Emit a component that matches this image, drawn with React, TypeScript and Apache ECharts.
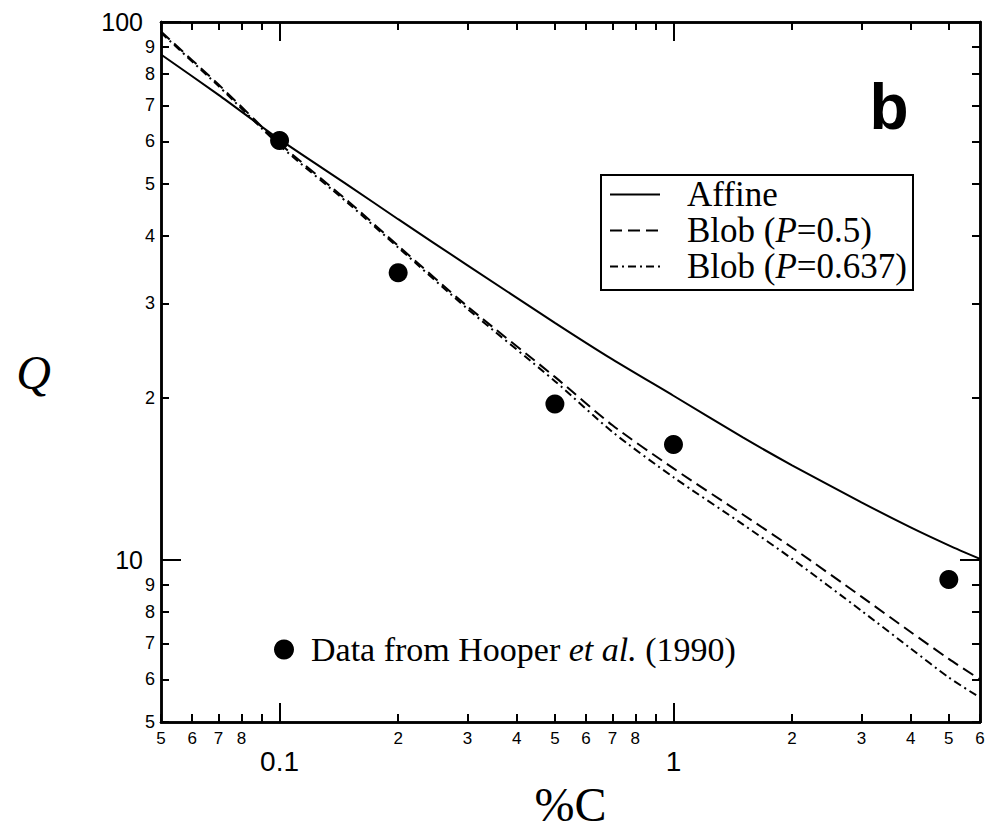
import React, { useEffect, useRef } from 'react';
import * as echarts from 'echarts';

// ---- data ----
const curveX = [0.05, 0.07, 0.1, 0.15, 0.2, 0.3, 0.5, 0.7, 1, 1.5, 2, 3, 4, 5, 6];
const affineQ = [87, 73.2, 60.5, 49.6, 43.0, 35.3, 27.6, 23.6, 20.2, 16.9, 15.0, 12.8, 11.5, 10.65, 10.05];
const blob05Q = [96, 76.5, 59.5, 46.3, 38.4, 29.6, 21.9, 17.8, 14.8, 12.15, 10.55, 8.55, 7.35, 6.55, 6.0];
const blob0637Q = [95.5, 76, 59, 45.9, 38.1, 29.3, 21.5, 17.3, 14.25, 11.65, 10.05, 8.05, 6.85, 6.05, 5.55];
const hooperX = [0.1, 0.2, 0.5, 1, 5];
const hooperQ = [60.2, 34.2, 19.5, 16.4, 9.2];

const seriesNames = ['Affine', 'Blob (P=0.5)', 'Blob (P=0.637)', 'Data from Hooper et al. (1990)'];
const seriesRich = ['Affine', 'Blob ({i|P}=0.5)', 'Blob ({i|P}=0.637)', 'Data from Hooper {i|et al.} (1990)'];

// tick labels
const xMin = 0.05;
const xMax = 6;
const yMin = 5;
const yMax = 100;
const xMajorTicks = [0.1, 1];
const xMajorLabels = ['0.1', '1'];
const xMinorTicks = [0.05, 0.06, 0.07, 0.08, 0.09, 0.2, 0.3, 0.4, 0.5, 0.6, 0.7, 0.8, 0.9, 2, 3, 4, 5, 6];
const xMinorLabelTicks = [0.05, 0.06, 0.07, 0.08, 0.2, 0.3, 0.4, 0.5, 0.6, 0.7, 0.8, 2, 3, 4, 5, 6];
const xMinorLabels = ['5', '6', '7', '8', '2', '3', '4', '5', '6', '7', '8', '2', '3', '4', '5', '6'];
const yMajorTicks = [10, 100];
const yMajorLabels = ['10', '100'];
const yMinorTicks = [5, 6, 7, 8, 9, 20, 30, 40, 50, 60, 70, 80, 90];
const yMinorLabels = ['5', '6', '7', '8', '9', '2', '3', '4', '5', '6', '7', '8', '9'];

const L = (v: number) => Math.log10(v);
const pair = (xs: number[], ys: number[]) => xs.map((x, i) => [L(x), L(ys[i])]);

const sans = "'Liberation Sans', Arial, Helvetica, sans-serif";
const serif = "'Liberation Serif', 'Times New Roman', Times, serif";

const fmt = (ticks: number[], labels: string[]) => (v: number) => {
  const i = ticks.findIndex((t) => Math.abs(L(t) - v) < 1e-6);
  return i >= 0 ? labels[i] : '';
};

function makeAxis(
  dim: 'x' | 'y',
  position: string,
  ticks: number[],
  tickLen: number,
  labelTicks: number[] | null,
  labels: string[] | null,
  fontSize: number,
  margin: number,
  extra: any = {}
) {
  const lo = dim === 'x' ? xMin : yMin;
  const hi = dim === 'x' ? xMax : yMax;
  return {
    type: 'value',
    position,
    min: L(lo),
    max: L(hi),
    splitLine: { show: false },
    axisLine: { show: true, onZero: false, lineStyle: { color: '#000', width: 2.5 } },
    axisTick: {
      show: true,
      inside: true,
      length: tickLen,
      lineStyle: { color: '#000', width: 2 },
      customValues: ticks.map(L),
    },
    axisLabel: labelTicks
      ? {
          show: true,
          customValues: labelTicks.map(L),
          formatter: fmt(labelTicks, labels as string[]),
          fontFamily: sans,
          fontSize,
          color: '#000',
          margin,
          showMinLabel: true,
          showMaxLabel: true,
          hideOverlap: false,
        }
      : { show: false },
    ...extra,
  };
}

export default function App() {
  const ref = useRef<HTMLDivElement>(null);
  useEffect(() => {
    document.body.style.margin = '0';
    if (!ref.current) return;
    const chart = echarts.init(ref.current, undefined, { renderer: 'svg' });
    const richMap: Record<string, string> = {};
    seriesNames.forEach((n, i) => (richMap[n] = seriesRich[i]));
    const legendText = (size: number) => ({
      fontFamily: serif,
      fontSize: size,
      color: '#000',
      lineHeight: 35,
      rich: { i: { fontFamily: serif, fontSize: size, fontStyle: 'italic', color: '#000', lineHeight: 35 } },
    });
    const hiddenSymbol = { color: 'rgba(0,0,0,0)', opacity: 0, borderWidth: 0 };
    chart.setOption({
      animation: false,
      backgroundColor: '#fff',
      grid: { left: 161, right: 6, top: 22, bottom: 107, containLabel: false, outerBoundsMode: 'none' },
      xAxis: [
        makeAxis('x', 'bottom', xMajorTicks, 19, xMajorTicks, xMajorLabels, 28, 25, {
          name: '%C',
          nameLocation: 'middle',
          nameGap: 58,
          nameTextStyle: { fontFamily: serif, fontSize: 48, color: '#000' },
        }),
        makeAxis('x', 'bottom', xMinorTicks, 8, xMinorLabelTicks, xMinorLabels, 17, 8),
        makeAxis('x', 'top', xMajorTicks, 19, null, null, 0, 0),
        makeAxis('x', 'top', xMinorTicks, 8, null, null, 0, 0),
      ],
      yAxis: [
        makeAxis('y', 'left', yMajorTicks, 20, yMajorTicks, yMajorLabels, 25, 18, {
          name: 'Q',
          nameLocation: 'middle',
          nameRotate: 0,
          nameGap: 110,
          nameTextStyle: { fontFamily: serif, fontSize: 48, fontStyle: 'italic', color: '#000' },
        }),
        makeAxis('y', 'left', yMinorTicks, 8, yMinorTicks, yMinorLabels, 18, 6),
        makeAxis('y', 'right', yMajorTicks, 20, null, null, 0, 0),
        makeAxis('y', 'right', yMinorTicks, 8, null, null, 0, 0),
      ],
      legend: [
        {
          data: seriesNames.slice(0, 3),
          orient: 'vertical',
          left: 601,
          top: 175,
          itemWidth: 50,
          itemHeight: 20,
          itemGap: 1,
          padding: [2, 6, 6, 8],
          borderColor: '#000',
          borderWidth: 2,
          borderRadius: 0,
          backgroundColor: '#fff',
          selectedMode: false,
          itemStyle: hiddenSymbol,
          formatter: (n: string) => richMap[n],
          textStyle: { ...legendText(35), padding: [0, 0, 0, 22] },
        },
        {
          data: [seriesNames[3]],
          orient: 'horizontal',
          left: 274,
          top: 632,
          itemWidth: 20,
          itemHeight: 20,
          padding: 0,
          selectedMode: false,
          formatter: (n: string) => richMap[n],
          textStyle: { ...legendText(34), padding: [0, 0, 0, 12] },
        },
      ],
      series: [
        {
          name: seriesNames[0],
          type: 'line',
          data: pair(curveX, affineQ),
          symbol: 'none',
          smooth: 0.25,
          lineStyle: { color: '#000', width: 2, type: 'solid' },
          itemStyle: { color: '#000' },
        },
        {
          name: seriesNames[1],
          type: 'line',
          data: pair(curveX, blob05Q),
          symbol: 'none',
          smooth: 0.25,
          lineStyle: { color: '#000', width: 2, type: [12, 6] },
          itemStyle: { color: '#000' },
        },
        {
          name: seriesNames[2],
          type: 'line',
          data: pair(curveX, blob0637Q),
          symbol: 'none',
          smooth: 0.25,
          lineStyle: { color: '#000', width: 2, type: [8, 4, 2, 4] },
          itemStyle: { color: '#000' },
        },
        {
          name: seriesNames[3],
          type: 'scatter',
          data: pair(hooperX, hooperQ),
          symbol: 'circle',
          symbolSize: 19,
          itemStyle: { color: '#000', opacity: 1 },
        },
      ],
      graphic: [
        {
          type: 'text',
          x: 889,
          y: 107,
          style: {
            text: 'b',
            fontFamily: sans,
            fontWeight: 'bold',
            fontSize: 64,
            fill: '#000',
            align: 'center',
            verticalAlign: 'middle',
          },
        },
      ],
    });
    return () => chart.dispose();
  }, []);
  return <div ref={ref} style={{ width: 986, height: 829 }} />;
}
